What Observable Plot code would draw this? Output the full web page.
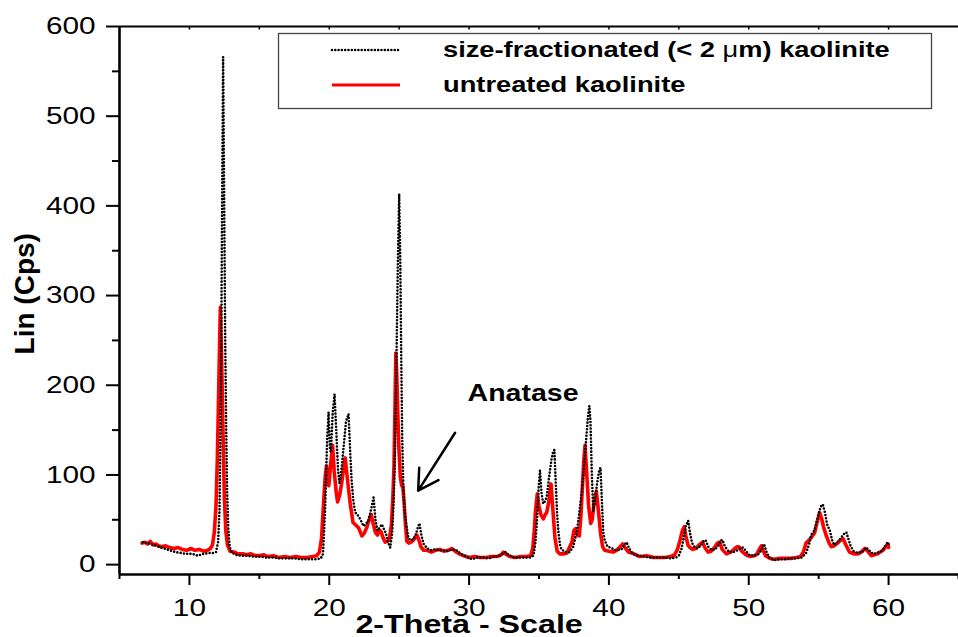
<!DOCTYPE html>
<html><head><meta charset="utf-8">
<script src="https://cdn.jsdelivr.net/npm/d3@7"></script>
<script src="https://cdn.jsdelivr.net/npm/@observablehq/plot@0.6"></script>
<style>
html,body{margin:0;padding:0;background:#fff;}
#chart{width:958px;height:637px;overflow:hidden;}
svg{display:block;}
</style></head><body><div id="chart"></div>
<script>
const seriesNames = ["size-fractionated (< 2 \u03bcm) kaolinite", "untreated kaolinite"];
const seriesColors = ["#000000", "#ff0000"];
const xLabel = "2-Theta - Scale";
const yLabel = "Lin (Cps)";
const annotationText = "Anatase";
const annotationPos = [33.86, 190.6];
const arrowFrom = [29.0, 147];
const arrowTo = [26.36, 82.5];

const untreatedTheta = [6.62,6.8,7.0,7.2,7.4,7.6,7.8,8.0,8.3,8.6,8.9,9.2,9.5,9.8,10.1,10.4,10.7,11.0,11.3,11.5,11.65,11.78,11.9,12.0,12.1,12.21,12.3,12.4,12.5,12.6,12.72,12.9,13.2,13.5,13.8,14.1,14.4,14.7,15.0,15.3,15.6,16.0,16.4,16.8,17.2,17.6,18.0,18.4,18.8,19.1,19.3,19.45,19.6,19.72,19.8,19.9,19.97,20.1,20.24,20.35,20.5,20.6,20.75,20.9,21.0,21.14,21.3,21.5,21.7,21.9,22.1,22.33,22.5,22.7,22.85,23.0,23.15,23.3,23.45,23.6,23.7,23.85,24.0,24.15,24.3,24.45,24.55,24.63,24.7,24.76,24.82,24.9,24.98,25.08,25.18,25.26,25.35,25.45,25.55,25.7,25.85,26.0,26.15,26.26,26.4,26.55,26.75,27.0,27.3,27.6,27.9,28.2,28.5,28.76,29.0,29.3,29.6,30.0,30.4,30.8,31.2,31.6,32.0,32.3,32.45,32.6,32.9,33.3,33.7,34.1,34.4,34.55,34.65,34.75,34.88,35.0,35.15,35.31,35.45,35.55,35.7,35.86,36.0,36.14,36.3,36.5,36.8,37.0,37.2,37.35,37.5,37.6,37.75,37.88,38.0,38.1,38.2,38.29,38.4,38.55,38.7,38.8,38.95,39.1,39.25,39.4,39.55,39.7,40.0,40.3,40.55,40.8,40.98,41.15,41.4,41.8,42.2,42.7,43.2,43.6,44.0,44.4,44.7,44.9,45.1,45.25,45.38,45.5,45.65,45.8,46.0,46.2,46.45,46.69,46.9,47.1,47.3,47.55,47.75,47.93,48.1,48.4,48.7,48.95,49.15,49.3,49.5,49.8,50.1,50.4,50.6,50.75,50.9,51.05,51.2,51.5,51.8,52.2,52.6,53.0,53.4,53.7,53.9,54.1,54.3,54.5,54.7,54.9,55.07,55.2,55.35,55.55,55.75,55.9,56.1,56.35,56.55,56.74,56.95,57.2,57.5,57.8,58.05,58.3,58.5,58.76,59.0,59.2,59.4,59.6,59.8,59.95,60.0];
const untreatedCps = [24,25,23,26,22,23,21,20,21,19,18,19,17,16,18,16,17,15,16,18,22,36,65,120,200,287,230,150,75,38,22,15,14,12,12,11,12,10,10,11,9,10,8,9,8,9,8,8,9,10,14,30,70,100,110,95,88,112,133,105,80,70,78,92,105,119,95,68,47,44,41,32,35,42,50,56,45,36,33,38,37,30,25,26,28,45,75,110,175,236,215,170,130,98,88,88,70,45,26,24,25,27,30,33,28,20,16,16,14,16,17,15,16,18,15,12,10,8,9,8,8,9,9,11,14,12,9,8,9,9,10,18,35,60,79,65,55,51,56,58,70,90,60,30,15,12,12,13,20,25,38,40,33,32,55,85,115,133,105,65,46,50,70,82,60,35,20,16,15,14,16,20,23,19,14,12,9,10,8,8,8,9,11,17,28,38,42,32,22,19,17,18,22,25,18,14,15,19,24,25,17,12,14,17,20,20,15,11,9,10,12,17,21,15,10,7,6,7,7,7,8,9,14,24,27,31,35,48,58,52,42,32,24,20,21,24,27,29,22,14,12,12,14,18,15,10,11,12,14,16,20,23,19];

const fractionTheta = [6.65,7.0,7.4,7.8,8.2,8.6,9.0,9.4,9.8,10.2,10.6,11.0,11.4,11.7,11.9,12.05,12.15,12.25,12.33,12.41,12.48,12.56,12.63,12.7,12.78,12.88,13.0,13.3,13.7,14.1,14.5,15.0,15.5,16.0,16.5,17.0,17.5,18.0,18.5,19.0,19.4,19.55,19.7,19.85,19.95,20.05,20.12,20.25,20.38,20.5,20.63,20.74,20.9,21.05,21.2,21.38,21.5,21.6,21.73,21.86,22.0,22.2,22.45,22.6,22.8,23.0,23.17,23.3,23.45,23.6,23.76,23.9,24.07,24.2,24.36,24.5,24.6,24.68,24.8,24.9,25.0,25.08,25.15,25.22,25.3,25.4,25.5,25.65,25.8,26.0,26.2,26.35,26.45,26.6,26.75,27.0,27.3,27.6,28.0,28.4,28.8,29.1,29.4,29.8,30.2,30.6,31.0,31.4,31.8,32.2,32.5,32.65,32.8,33.2,33.6,34.0,34.4,34.6,34.75,34.88,34.97,35.07,35.18,35.3,35.4,35.55,35.7,35.9,36.0,36.1,36.2,36.3,36.38,36.5,36.6,36.9,37.2,37.45,37.6,37.7,37.8,37.9,38.05,38.2,38.35,38.5,38.6,38.68,38.78,38.88,39.0,39.15,39.3,39.4,39.5,39.6,39.7,39.9,40.1,40.5,40.9,41.1,41.26,41.45,41.7,42.1,42.5,43.0,43.5,44.0,44.4,44.8,45.0,45.2,45.35,45.5,45.67,45.8,45.95,46.1,46.35,46.6,46.8,46.93,47.1,47.35,47.6,47.85,48.0,48.12,48.3,48.6,48.9,49.2,49.45,49.6,49.8,50.1,50.4,50.7,50.9,51.0,51.1,51.25,51.45,51.8,52.2,52.6,53.0,53.4,53.8,54.1,54.3,54.5,54.7,54.9,55.05,55.2,55.3,55.45,55.6,55.8,55.95,56.1,56.3,56.6,56.8,56.98,57.1,57.3,57.5,57.8,58.1,58.4,58.6,58.9,59.2,59.5,59.7,59.85,59.95,60.0];
const fractionCps = [25,24,22,20,18,16,14,13,12,12,10,12,13,13,14,25,60,180,380,566,420,250,150,80,40,20,14,11,10,10,9,9,8,8,7,7,7,6,6,6,7,12,60,140,170,130,125,170,190,150,105,90,110,135,160,168,125,94,70,58,56,51,43,45,49,62,75,50,38,41,45,40,34,25,19,35,70,110,220,330,413,340,230,140,85,58,46,30,27,28,34,42,46,32,23,18,16,17,16,15,17,16,12,9,6,8,8,7,9,10,13,14,11,8,8,8,8,10,25,55,85,105,80,68,70,75,95,118,125,128,90,55,38,22,17,14,14,20,30,35,48,60,80,105,135,165,177,160,100,60,70,90,105,108,70,35,27,20,19,16,17,22,25,18,12,10,9,8,8,8,7,8,10,18,30,43,49,35,24,20,18,22,27,27,20,16,17,22,27,27.5,20,14,14,16,19,19,15,10,10,12,16,21,23,15,8,5,6,6,7,7,8,13,22,34,38,50,60,66,67,58,45,38,28,22,24,30,34,36,30,20,15,13,14,19,16,12,13,15,19,23,25,22];

const xMajorTicks = [10,20,30,40,50,60];
const xMinorTicks = [5,15,25,35,45,55,65];
const yMajorTicks = [0,100,200,300,400,500,600];
const yMinorTicks = [50,150,250,350,450,550];
const topTicks = [10,15,20,25,30,35,40,45,50,55,60];

const untreated = untreatedTheta.map((t, i) => ({t, v: untreatedCps[i]}));
const fraction = fractionTheta.map((t, i) => ({t, v: fractionCps[i]}));

const dotted = "0 3.3";

const svg = Plot.plot({
  width: 958, height: 637,
  marginLeft: 119, marginRight: 0, marginTop: 26, marginBottom: 63,
  x: {domain: [5, 65]},
  y: {domain: [-11, 600]},
  style: {fontFamily: "'Liberation Sans', Arial, sans-serif", fontSize: "24px", background: "#fff", overflow: "visible", color: "#000"},
  marks: [
    Plot.line(untreated, {x: "t", y: "v", stroke: seriesColors[1], strokeWidth: 3.6, strokeLinejoin: "round"}),
    Plot.line(fraction, {x: "t", y: "v", stroke: seriesColors[0], strokeWidth: 2.6, strokeDasharray: dotted, strokeLinecap: "round", strokeLinejoin: "round"}),
    Plot.ruleY([600], {stroke: "#000", strokeWidth: 2}),
    Plot.ruleX(topTicks, {y1: 600, y2: 596, stroke: "#000", strokeWidth: 1.5}),
    Plot.ruleX([5], {y1: -11, y2: 600, stroke: "#000", strokeWidth: 2.6}),
    Plot.ruleY([-11], {stroke: "#000", strokeWidth: 2.6}),
    Plot.axisY({ticks: yMajorTicks, tickSize: 13, tickPadding: 11, fontSize: 24, strokeWidth: 2, label: null}),
    Plot.axisY({ticks: yMinorTicks, tickSize: 7, tickFormat: () => "", strokeWidth: 2, label: null}),
    Plot.axisX({ticks: xMajorTicks, tickSize: 11, tickPadding: 13, fontSize: 24, strokeWidth: 2, label: null}),
    Plot.axisX({ticks: xMinorTicks, tickSize: 5, tickFormat: () => "", strokeWidth: 2, label: null}),
    Plot.text([{label: annotationText, x: annotationPos[0], y: annotationPos[1]}], {x: "x", y: "y", text: "label", fontWeight: "bold", fontSize: 23, textAnchor: "middle", lineAnchor: "middle"}),
    Plot.arrow([{x1: arrowFrom[0], y1: arrowFrom[1], x2: arrowTo[0], y2: arrowTo[1]}], {x1: "x1", y1: "y1", x2: "x2", y2: "y2", stroke: "#000", strokeWidth: 2.5, headLength: 14}),
    Plot.text([{label: xLabel, x: 30}], {x: "x", text: "label", frameAnchor: "bottom", dy: 40, lineAnchor: "top", textAnchor: "middle", fontWeight: "bold", fontSize: 26}),
    Plot.text([{label: yLabel, y: 302}], {y: "y", text: "label", frameAnchor: "left", dx: -94, rotate: -90, textAnchor: "middle", fontWeight: "bold", fontSize: 28, lineAnchor: "middle"})
  ]
});

// stretch glyphs horizontally (the reference's text is wide); keep em-based y offsets
d3.select(svg).selectAll("text").each(function() {
  if (this.textContent === yLabel) return;
  const t = this.getAttribute("transform") || "";
  const xa = this.getAttribute("x");
  let x = 0;
  if (xa !== null && !isNaN(+xa)) { x = +xa; this.removeAttribute("x"); }
  this.setAttribute("transform", `${t} translate(${x},0) scale(1.24,1)`);
});

// legend
const lg = d3.select(svg).append("g")
  .attr("font-family", "'Liberation Sans', Arial, sans-serif")
  .attr("text-anchor", "start");
lg.append("rect").attr("x", 278.5).attr("y", 33.5).attr("width", 653).attr("height", 75)
  .attr("fill", "#fff").attr("stroke", "#444").attr("stroke-width", 1.3);
const rows = [{y: 57, sw: 2.6, dash: dotted, cap: "round"}, {y: 92, sw: 2.8, dash: null, cap: "butt"}];
seriesNames.forEach((name, i) => {
  const r = rows[i];
  lg.append("line").attr("x1", 332).attr("x2", 400).attr("y1", r.y - 7).attr("y2", r.y - 7)
    .attr("stroke", seriesColors[i]).attr("stroke-width", r.sw)
    .attr("stroke-dasharray", r.dash).attr("stroke-linecap", r.cap);
  const tx = lg.append("text").attr("transform", `translate(443,${r.y}) scale(1.24,1)`)
    .attr("font-size", 22).attr("font-weight", "bold").attr("fill", "#000");
  const parts = name.split("\u03bc");
  tx.append("tspan").text(parts[0]);
  if (parts.length > 1) {
    tx.append("tspan").attr("font-weight", "normal").text("\u03bc");
    tx.append("tspan").text(parts[1]);
  }
});

document.getElementById("chart").appendChild(svg);
</script>
</body></html>
